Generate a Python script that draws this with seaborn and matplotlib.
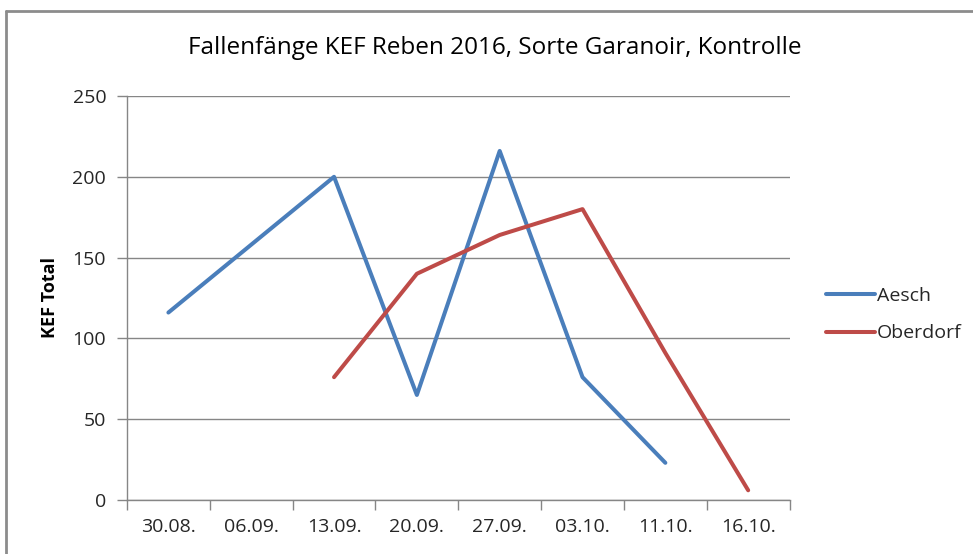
import pandas as pd
import numpy as np
import seaborn as sns
import matplotlib.pyplot as plt
from matplotlib.lines import Line2D

dates = ['30.08.', '06.09.', '13.09.', '20.09.', '27.09.', '03.10.', '11.10.', '16.10.']
aesch = [116, 158, 200, 65, 216, 76, 23, np.nan]
oberdorf = [np.nan, np.nan, 76, 140, 164, 180, 91, 6]

sns.set_theme(style="white")
plt.rcParams['font.family'] = ['Open Sans', 'DejaVu Sans']

# long form table, position column keeps the category order
df = pd.DataFrame({'pos': list(range(len(dates))) * 2,
                   'Datum': dates * 2,
                   'KEF': aesch + oberdorf,
                   'Standort': ['Aesch'] * len(dates) + ['Oberdorf'] * len(dates)})
df = df.dropna()

fig = plt.figure(figsize=(9.73, 5.54), dpi=100)
ax = fig.add_axes([0.1305, 0.0975, 0.8115 - 0.1305, 0.8267 - 0.0975])

sns.lineplot(data=df, x='pos', y='KEF', hue='Standort', hue_order=['Aesch', 'Oberdorf'],
             palette=['#4A7EBB', '#BE4B48'], linewidth=2.9, sort=False, ax=ax)

ax.set_xlim(-0.5, len(dates) - 0.5)
ax.set_ylim(0, 250)
ax.set_yticks([0, 50, 100, 150, 200, 250])
ax.set_xticks(range(len(dates)))
ax.set_xticklabels(dates)
ax.set_xticks(np.arange(-0.5, len(dates), 1), minor=True)
ax.tick_params(axis='x', which='major', length=0, pad=13, labelsize=14, colors='#262626')
ax.tick_params(axis='x', which='minor', length=7, width=1, color='#868686', direction='out')
ax.tick_params(axis='y', length=7, width=1, direction='out', pad=8,
               labelsize=14, colors='#262626')
ax.tick_params(axis='y', color='#868686')
ax.xaxis.set_ticks_position('bottom')
ax.yaxis.set_ticks_position('left')
ax.grid(axis='y', color='#868686', linewidth=1)
for side in ['top', 'right']:
    ax.spines[side].set_visible(False)
for side in ['left', 'bottom']:
    ax.spines[side].set_color('#868686')
    ax.spines[side].set_linewidth(1)

ax.set_xlabel('')
ax.set_ylabel('KEF Total', fontsize=13, fontweight='bold', color='black', labelpad=10)
fig.text(0.508, 0.913, 'Fallenfänge KEF Reben 2016, Sorte Garanoir, Kontrolle',
         fontsize=17.5, ha='center', va='center', color='black')

ax.legend(loc='center left', bbox_to_anchor=(0.841, 0.432), bbox_transform=fig.transFigure,
          frameon=False, fontsize=14, handlelength=2.5, handletextpad=0.1, labelspacing=1.0,
          borderaxespad=0)

# chart frame (top and left edges visible)
fig.add_artist(Line2D([6 / 973, 6 / 973], [0, 1 - 11 / 554], transform=fig.transFigure,
                      color='#8c8c8c', linewidth=2))
fig.add_artist(Line2D([6 / 973, 1], [1 - 11 / 554, 1 - 11 / 554], transform=fig.transFigure,
                      color='#8c8c8c', linewidth=2))

fig.savefig('out.png', dpi=100)
